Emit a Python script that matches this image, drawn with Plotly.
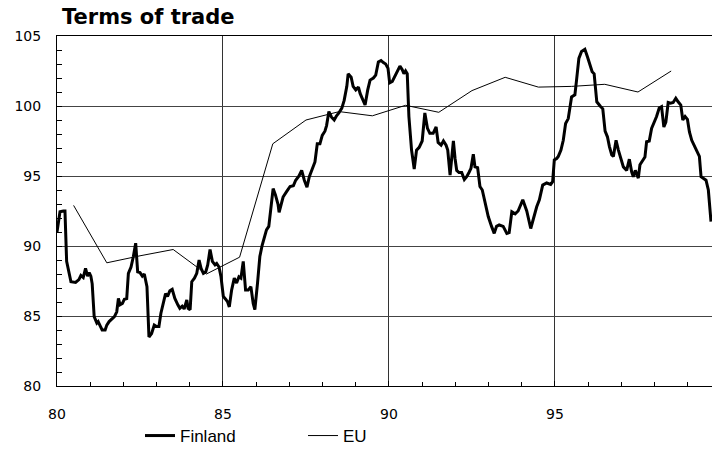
import plotly.graph_objects as go

# ---- data ----
finland_year = [
    80.00, 80.09, 80.19, 80.24, 80.29, 80.34, 80.42, 80.56, 80.66, 80.72, 80.79, 80.86, 80.92, 80.97,
    81.02, 81.06, 81.09, 81.12, 81.20, 81.24, 81.30, 81.36, 81.45, 81.50, 81.57, 81.65, 81.73, 81.80,
    81.85, 81.90, 81.97, 82.03, 82.10, 82.15, 82.23, 82.30, 82.37, 82.43, 82.50, 82.57, 82.63, 82.71,
    82.77, 82.85, 82.93, 83.00, 83.07, 83.13, 83.20, 83.27, 83.33, 83.40, 83.47, 83.55, 83.64, 83.70,
    83.77, 83.83, 83.91, 83.95, 84.01, 84.06, 84.14, 84.21, 84.28, 84.34, 84.41, 84.48, 84.54, 84.61,
    84.68, 84.76, 84.81, 84.88, 84.94, 85.01, 85.08, 85.14, 85.19, 85.26, 85.34, 85.41, 85.48, 85.54,
    85.61, 85.68, 85.76, 85.84, 85.91, 85.96, 86.04, 86.11, 86.18, 86.24, 86.31, 86.38, 86.44, 86.51,
    86.58, 86.66, 86.69, 86.81, 86.92, 87.02, 87.12, 87.19, 87.29, 87.37, 87.45, 87.53, 87.60, 87.69,
    87.77, 87.84, 87.92, 87.99, 88.07, 88.12, 88.19, 88.27, 88.35, 88.42, 88.49, 88.58, 88.65, 88.73,
    88.77, 88.86, 88.92, 89.00, 89.08, 89.13, 89.20, 89.28, 89.36, 89.43, 89.53, 89.60, 89.68, 89.76,
    89.83, 89.90, 89.97, 90.02, 90.10, 90.18, 90.26, 90.33, 90.40, 90.45, 90.50, 90.55, 90.60, 90.68,
    90.76, 90.83, 90.91, 91.00, 91.08, 91.16, 91.23, 91.33, 91.42, 91.48, 91.57, 91.64, 91.72, 91.77,
    91.84, 91.89, 91.94, 91.99, 92.04, 92.11, 92.19, 92.27, 92.34, 92.41, 92.47, 92.54, 92.59, 92.67,
    92.74, 92.81, 92.89, 92.99, 93.09, 93.17, 93.24, 93.32, 93.44, 93.55, 93.62, 93.70, 93.80, 93.89,
    94.03, 94.15, 94.27, 94.37, 94.45, 94.53, 94.63, 94.75, 94.87, 94.93, 94.98, 95.05, 95.10, 95.18,
    95.25, 95.32, 95.40, 95.50, 95.60, 95.65, 95.72, 95.80, 95.90, 95.98, 96.05, 96.12, 96.18, 96.26,
    96.36, 96.44, 96.51, 96.58, 96.64, 96.71, 96.76, 96.84, 96.91, 96.98, 97.06, 97.16, 97.24, 97.31,
    97.36, 97.42, 97.51, 97.56, 97.64, 97.71, 97.76, 97.84, 97.91, 97.98, 98.06, 98.14, 98.21, 98.28,
    98.34, 98.41, 98.48, 98.56, 98.64, 98.71, 98.79, 98.85, 98.92, 98.99, 99.05, 99.12, 99.19, 99.27,
    99.35, 99.40, 99.47, 99.55, 99.62, 99.70,
]
finland_value = [
    91.0, 92.45, 92.5, 92.5, 88.9, 88.4, 87.45, 87.4, 87.6, 87.9, 87.75, 88.4, 87.85, 88.1,
    87.85, 87.3, 86.1, 84.95, 84.5, 84.6, 84.3, 84.0, 84.0, 84.35, 84.6, 84.75, 84.95, 85.3,
    86.25, 85.8, 85.9, 86.2, 86.25, 88.05, 88.5, 89.25, 90.2, 88.15, 88.1, 87.85, 88.0, 87.1,
    83.5, 83.75, 84.35, 84.25, 84.25, 85.2, 85.8, 86.6, 86.4, 86.8, 86.9, 86.25, 85.8, 85.55,
    85.7, 85.5, 86.15, 85.55, 85.45, 87.45, 87.7, 88.05, 89.0, 88.4, 88.05, 88.15, 88.65, 89.75,
    88.9, 88.65, 88.75, 88.5, 87.8, 86.4, 86.2, 86.0, 85.65, 86.85, 87.7, 87.35, 87.8, 87.7,
    88.9, 86.85, 86.85, 87.1, 85.9, 85.45, 87.35, 89.25, 90.05, 90.55, 91.15, 91.4, 92.8, 94.1,
    93.65, 92.95, 92.4, 93.5, 93.9, 94.25, 94.3, 94.7, 95.0, 95.4, 94.7, 94.2, 94.95, 95.55,
    96.0, 97.3, 97.3, 97.9, 98.2, 98.6, 99.6, 99.2, 99.0, 99.3, 99.5, 99.85, 100.4, 101.4,
    102.3, 102.05, 101.4, 101.15, 101.35, 100.9, 100.55, 100.07, 101.15, 101.85, 102.0, 102.2, 103.15, 103.25,
    103.1, 103.0, 102.7, 101.65, 101.75, 102.1, 102.45, 102.85, 102.6, 102.3, 102.5, 102.3, 99.25, 96.85,
    95.5, 96.85, 97.05, 97.5, 99.5, 98.4, 98.05, 98.05, 98.5, 97.4, 97.2, 97.5, 97.2, 96.85,
    95.07, 96.4, 97.5, 96.25, 95.4, 95.25, 95.25, 94.75, 94.95, 95.25, 95.55, 96.55, 95.65, 95.6,
    94.25, 94.0, 93.05, 92.1, 91.4, 90.9, 91.4, 91.5, 91.4, 90.9, 90.95, 92.45, 92.3, 92.5,
    93.3, 92.5, 91.25, 92.2, 92.8, 93.3, 94.35, 94.5, 94.4, 94.6, 96.15, 96.25, 96.4, 96.85,
    97.55, 98.75, 99.1, 100.65, 100.8, 101.85, 103.4, 103.9, 104.05, 103.5, 103.05, 102.45, 102.3, 100.3,
    100.0, 99.8, 98.2, 97.8, 97.1, 96.5, 96.4, 97.55, 96.85, 96.25, 95.65, 95.4, 96.2, 95.3,
    94.95, 95.4, 94.85, 95.8, 96.15, 96.35, 97.45, 97.5, 98.4, 98.75, 99.25, 99.85, 99.95, 98.5,
    98.85, 100.25, 100.2, 100.25, 100.55, 100.3, 100.07, 99.0, 99.25, 99.05, 98.15, 97.55, 97.2, 96.75,
    96.4, 94.95, 94.85, 94.7, 94.0, 91.75,
]

eu_year = [80.5, 81.5, 82.5, 83.5, 84.5, 85.5, 86.5, 87.5, 88.5, 89.5,
           90.5, 91.5, 92.5, 93.5, 94.5, 95.5, 96.5, 97.5, 98.5]
eu_value = [92.9, 88.8, 89.3, 89.75, 88.0, 89.2, 97.3, 99.0, 99.6, 99.3,
            100.05, 99.55, 101.1, 102.05, 101.35, 101.4, 101.55, 101.0, 102.5]

x_tick_vals = [80, 85, 90, 95]
x_tick_text = ["80", "85", "90", "95"]
y_tick_vals = [80, 85, 90, 95, 100, 105]

title_text = "Terms of trade"

fig = go.Figure()
fig.add_trace(go.Scatter(x=finland_year, y=finland_value, mode="lines", name="Finland",
                         line=dict(color="black", width=3), legend="legend"))
fig.add_trace(go.Scatter(x=eu_year, y=eu_value, mode="lines", name="EU",
                         line=dict(color="black", width=1), legend="legend2"))

tick_font = dict(family="DejaVu Sans", size=14, color="black")
legend_font = dict(family="Liberation Sans", size=17, color="black")

fig.update_layout(
    width=712, height=450,
    margin=dict(l=57, r=0, t=36, b=64, autoexpand=False),
    paper_bgcolor="white", plot_bgcolor="white",
    title=dict(text="<b>" + title_text + "</b>", font=dict(family="DejaVu Sans", size=21, color="black"),
               x=62 / 712, xanchor="left", xref="container",
               y=1 - 17 / 450, yanchor="middle", yref="container"),
    showlegend=True,
    legend=dict(x=140 / 712, xref="container", xanchor="left",
                y=1 - 418 / 450, yref="container", yanchor="top",
                orientation="h", font=legend_font, bgcolor="rgba(0,0,0,0)",
                itemwidth=30, borderwidth=0),
    legend2=dict(x=303 / 712, xref="container", xanchor="left",
                 y=1 - 418 / 450, yref="container", yanchor="top",
                 orientation="h", font=legend_font, bgcolor="rgba(0,0,0,0)",
                 itemwidth=30, borderwidth=0),
    xaxis=dict(range=[80, 99.73], tickvals=x_tick_vals, ticktext=x_tick_text,
               showgrid=True, gridcolor="#333333", gridwidth=1,
               showline=True, linecolor="black", linewidth=1, mirror=True,
               ticks="inside", ticklen=5, tickcolor="black",
               minor=dict(dtick=1, ticks="inside", ticklen=4, tickcolor="black", showgrid=False),
               tickfont=tick_font, ticklabelstandoff=15, zeroline=False, fixedrange=True),
    yaxis=dict(range=[80, 105], tickvals=y_tick_vals,
               showgrid=True, gridcolor="#444444", gridwidth=1,
               showline=True, linecolor="black", linewidth=1,
               ticks="inside", ticklen=5, tickcolor="black",
               minor=dict(dtick=1, ticks="inside", ticklen=5, tickcolor="black", showgrid=False),
               tickfont=tick_font, ticklabelstandoff=12, zeroline=False, fixedrange=True),
)

fig.write_html("out.html", config={"displayModeBar": False},
               post_script="document.body.style.margin='0';document.body.style.padding='0';")
